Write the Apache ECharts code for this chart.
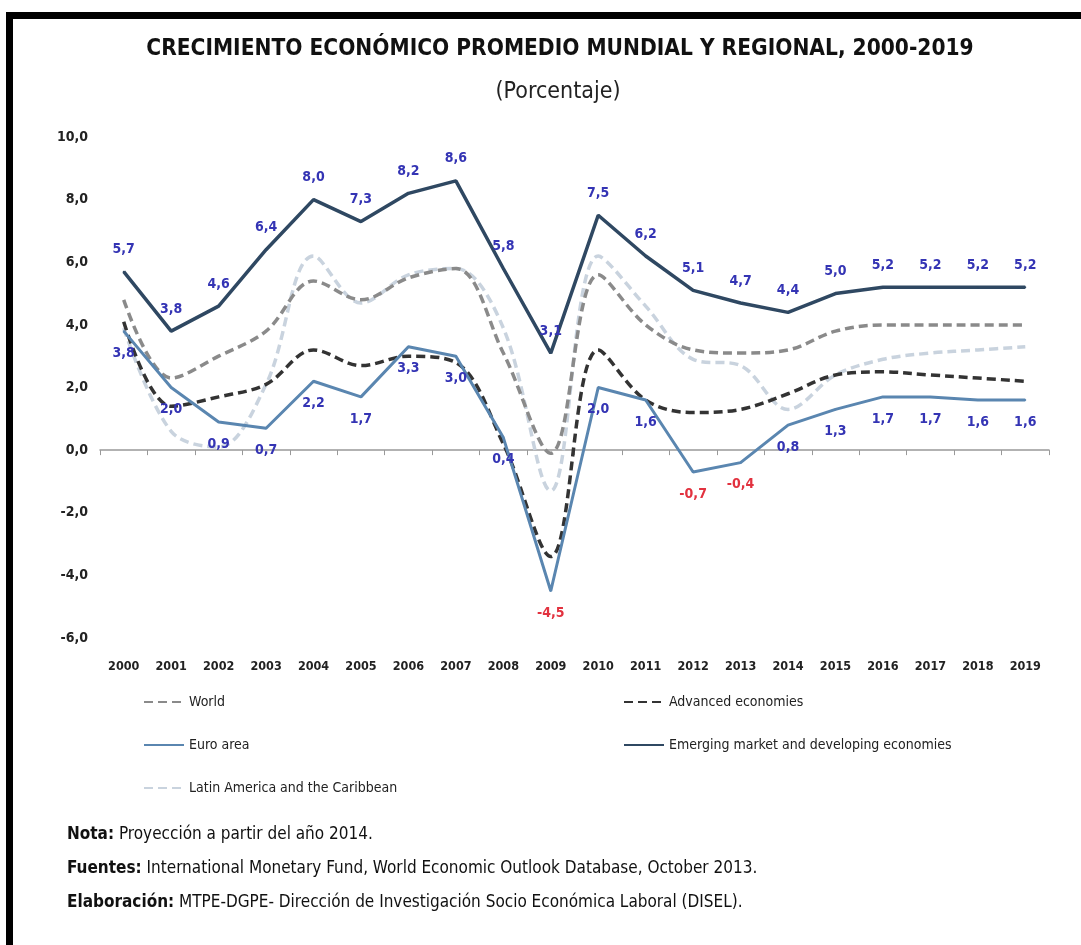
<!DOCTYPE html>
<html>
<head>
<meta charset="utf-8">
<script src="https://cdn.jsdelivr.net/npm/echarts@6/dist/echarts.min.js"></script>
<style>html,body{margin:0;padding:0;background:#fff}#c{width:1081px;height:945px}</style>
</head>
<body>
<div id="c"></div>
<script>
var years = ['2000','2001','2002','2003','2004','2005','2006','2007','2008','2009','2010','2011','2012','2013','2014','2015','2016','2017','2018','2019'];
var world = [4.8,2.3,3.0,3.8,5.4,4.8,5.5,5.8,3.1,-0.1,5.6,4.0,3.2,3.1,3.2,3.8,4.0,4.0,4.0,4.0];
var advanced = [4.1,1.4,1.7,2.1,3.2,2.7,3.0,2.8,0.2,-3.4,3.2,1.6,1.2,1.3,1.8,2.4,2.5,2.4,2.3,2.2];
var euro = [3.8,2.0,0.9,0.7,2.2,1.7,3.3,3.0,0.4,-4.5,2.0,1.6,-0.7,-0.4,0.8,1.3,1.7,1.7,1.6,1.6];
var emerging = [5.7,3.8,4.6,6.4,8.0,7.3,8.2,8.6,5.8,3.1,7.5,6.2,5.1,4.7,4.4,5.0,5.2,5.2,5.2,5.2];
var latin = [3.9,0.6,0.1,2.1,6.2,4.7,5.6,5.8,3.9,-1.3,6.2,4.6,2.9,2.7,1.3,2.4,2.9,3.1,3.2,3.3];
var seriesNames = ['World','Advanced economies','Euro area','Emerging market and developing economies','Latin America and the Caribbean'];
var yTicks = {min:-6, max:10, interval:2};
var titleText = 'CRECIMIENTO ECONÓMICO PROMEDIO MUNDIAL Y REGIONAL, 2000-2019';
var subtitleText = '(Porcentaje)';
var notes = [
  ['Nota:', ' Proyección a partir del año 2014.'],
  ['Fuentes:', ' International Monetary Fund, World Economic Outlook Database, October 2013.'],
  ['Elaboración:', ' MTPE-DGPE- Dirección de Investigación Socio Económica Laboral (DISEL).']
];

var F = "'Liberation Sans Narrow','DejaVu Sans Condensed','Open Sans',sans-serif";
function fmt(v){ return v.toFixed(1).replace('.', ','); }
function labelled(arr){
  return arr.map(function(v){
    return {value:v, label:{color: v < 0 ? '#e2323f' : '#3434b4'}};
  });
}
var lblStyle = {show:true, fontFamily:F, fontWeight:'bold', fontSize:14, distance:14,
  formatter:function(p){ return fmt(p.value); }};

var chart = echarts.init(document.getElementById('c'), null, {renderer:'canvas'});
var noteGraphics = notes.map(function(n, i){
  return {type:'text', left:67, top:826 + i*34, style:{
    text:'{b|' + n[0] + '}{r|' + n[1] + '}',
    rich:{ b:{fontFamily:F, fontWeight:'bold', fontSize:17, fill:'#111', color:'#111'},
           r:{fontFamily:F, fontSize:17, fill:'#111', color:'#111'} }
  }};
});
var legendCommon = {orient:'vertical', itemGap:29, itemWidth:40, itemHeight:14,
  itemStyle:{opacity:0},
  textStyle:{fontFamily:F, fontSize:14, color:'#222'}};
var option = {
  backgroundColor:'#fff',
  animation:false,
  title:[
    {text:titleText, left:555, top:33, textAlign:'center',
     textStyle:{fontFamily:F, fontSize:22.5, fontWeight:'bold', color:'#111'}},
    {text:subtitleText, left:553, top:76, textAlign:'center',
     textStyle:{fontFamily:F, fontSize:23, fontWeight:'normal', color:'#222'}}
  ],
  grid:{left:100, right:32, top:137, bottom:307},
  legend:[
    Object.assign({data:[seriesNames[0], seriesNames[2], seriesNames[4]], left:138, top:690}, legendCommon),
    Object.assign({data:[seriesNames[1], seriesNames[3]], left:618, top:690}, legendCommon)
  ],
  xAxis:[
    {type:'category', data:years, axisLine:{onZero:true, lineStyle:{color:'#999', width:1.5}},
     axisTick:{show:true, length:5, lineStyle:{color:'#999'}}, axisLabel:{show:false}, splitLine:{show:false}},
    {type:'category', data:years, position:'bottom', axisLine:{show:false}, axisTick:{show:false},
     axisLabel:{fontFamily:F, fontWeight:'bold', fontSize:12.5, color:'#222', margin:22}}
  ],
  yAxis:{type:'value', min:yTicks.min, max:yTicks.max, interval:yTicks.interval,
    axisLine:{show:false}, axisTick:{show:false}, splitLine:{show:false},
    axisLabel:{fontFamily:F, fontWeight:'bold', fontSize:14, color:'#222', margin:12, formatter:fmt}},
  series:[
    {name:seriesNames[4], type:'line', data:latin, smooth:0.35, symbol:'none', z:1,
     lineStyle:{color:'#c9d3de', width:3.5, type:[9,5]}, itemStyle:{color:'#c9d3de'}},
    {name:seriesNames[0], type:'line', data:world, smooth:0.35, symbol:'none', z:2,
     lineStyle:{color:'#8a8a8a', width:3.5, type:[9,5]}, itemStyle:{color:'#8a8a8a'}},
    {name:seriesNames[1], type:'line', data:advanced, smooth:0.35, symbol:'none', z:3,
     lineStyle:{color:'#333333', width:3.5, type:[9,5]}, itemStyle:{color:'#333333'}},
    {name:seriesNames[2], type:'line', data:labelled(euro), symbol:'circle', symbolSize:2, showSymbol:true, z:4,
     lineStyle:{color:'#5a86b0', width:3}, itemStyle:{color:'#5a86b0'},
     label:Object.assign({position:'bottom'}, lblStyle)},
    {name:seriesNames[3], type:'line', data:labelled(emerging), symbol:'circle', symbolSize:2, showSymbol:true, z:5,
     lineStyle:{color:'#2f4862', width:3.5}, itemStyle:{color:'#2f4862'},
     label:Object.assign({position:'top'}, lblStyle)}
  ],
  graphic:[
    {type:'rect', shape:{x:6, y:12, width:1075, height:7}, style:{fill:'#000'}},
    {type:'rect', shape:{x:6, y:12, width:7, height:933}, style:{fill:'#000'}}
  ].concat(noteGraphics)
};
chart.setOption(option);
</script>
</body>
</html>
